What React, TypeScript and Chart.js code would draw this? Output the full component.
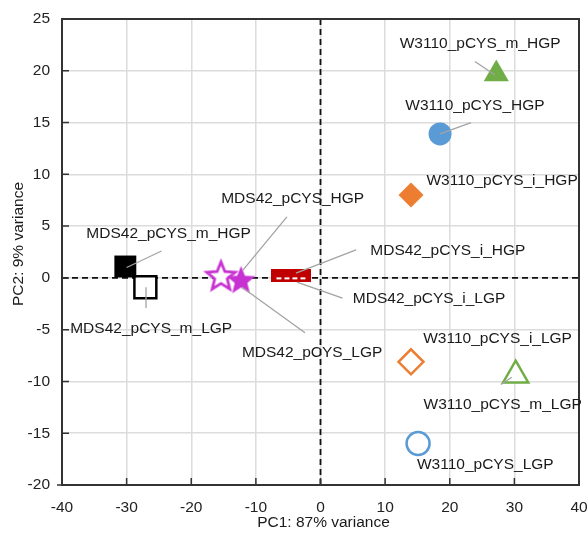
import React, { useEffect, useRef } from "react";
import { Chart, registerables } from "chart.js";

Chart.register(...registerables);

// ---------- data ----------
const sampleNames = [
  "MDS42_pCYS_m_HGP",
  "MDS42_pCYS_m_LGP",
  "MDS42_pCYS_HGP",
  "MDS42_pCYS_LGP",
  "MDS42_pCYS_i_HGP",
  "MDS42_pCYS_i_LGP",
  "W3110_pCYS_m_HGP",
  "W3110_pCYS_HGP",
  "W3110_pCYS_i_HGP",
  "W3110_pCYS_i_LGP",
  "W3110_pCYS_m_LGP",
  "W3110_pCYS_LGP",
];
const pc1 = [-30.2, -27.1, -12.3, -15.4, -4.5, -4.5, 27.2, 18.5, 14.0, 14.0, 30.2, 15.1];
const pc2 = [1.1, -0.9, -0.2, 0.2, 0.3, 0.15, 19.7, 13.9, 8.0, -8.1, -9.4, -16.0];

// label anchors (data units)
const labelX = [-23.5, -26.2, -4.3, -1.3, 19.7, 16.8, 24.7, 23.9, 28.1, 27.4, 28.2, 25.5];
const labelY = [4.3, -4.9, 7.6, -7.25, 2.6, -2.05, 22.65, 16.6, 9.35, -5.85, -12.2, -18.05];

// leader lines (data units), null = none
const leaderFromX = [-24.6, -27.0, -5.2, -2.4, 5.5, 3.4, 23.9, 23.3, null, null, 27.9, null];
const leaderFromY = [2.6, -0.9, 5.9, -5.3, 2.7, -1.95, 20.9, 15.0, null, null, -10.3, null];
const leaderToX = [-30.0, -27.0, -12.0, -12.15, -3.8, -3.65, 27.0, 18.5, null, null, 29.6, null];
const leaderToY = [1.0, -2.9, 0.75, -0.9, 0.45, -0.4, 19.6, 13.9, null, null, -9.6, null];

const xMin = -40;
const xMax = 40;
const xStep = 10;
const yMin = -20;
const yMax = 25;
const yStep = 5;
const xTitle = "PC1: 87% variance";
const yTitle = "PC2: 9% variance";

// ---------- styles ----------
type Mk = { shape: string; color: string; filled: boolean };
const markerStyles: Mk[] = [
  { shape: "rect", color: "#000000", filled: true },
  { shape: "rect", color: "#000000", filled: false },
  { shape: "star", color: "#c832d2", filled: true },
  { shape: "star", color: "#c832d2", filled: false },
  { shape: "bar", color: "#c00000", filled: true },
  { shape: "bar", color: "#c00000", filled: false },
  { shape: "triangle", color: "#70ad47", filled: true },
  { shape: "circle", color: "#5b9bd5", filled: true },
  { shape: "rectRot", color: "#ed7d31", filled: true },
  { shape: "rectRot", color: "#ed7d31", filled: false },
  { shape: "triangle", color: "#70ad47", filled: false },
  { shape: "circle", color: "#5b9bd5", filled: false },
];
// drawn first -> last
const drawSequence = [1, 0, 3, 2, 4, 5, 6, 7, 8, 9, 10, 11];

const FONT = "'Liberation Sans', Arial, Helvetica, sans-serif";
const FS = 15.5;

function makeStar(color: string, filled: boolean): HTMLCanvasElement {
  const R = 15;
  const r = R * 0.44;
  const lw = 2.8;
  const size = Math.ceil(2 * R + lw + 4);
  const c = document.createElement("canvas");
  c.width = size;
  c.height = size;
  const ctx = c.getContext("2d")!;
  const cx = size / 2;
  const cy = size / 2 + 1;
  ctx.beginPath();
  for (let i = 0; i < 10; i++) {
    const a = -Math.PI / 2 + (i * Math.PI) / 5;
    const rad = i % 2 === 0 ? R : r;
    const px = cx + Math.cos(a) * rad;
    const py = cy + Math.sin(a) * rad;
    if (i === 0) ctx.moveTo(px, py);
    else ctx.lineTo(px, py);
  }
  ctx.closePath();
  ctx.lineJoin = "miter";
  if (filled) {
    ctx.fillStyle = color;
    ctx.fill();
  } else {
    ctx.fillStyle = "#ffffff";
    ctx.fill();
    ctx.strokeStyle = color;
    ctx.lineWidth = lw;
    ctx.stroke();
  }
  return c;
}

function makeBar(color: string, filled: boolean): HTMLCanvasElement {
  const w = 40;
  const h = 12;
  const c = document.createElement("canvas");
  c.width = w;
  c.height = h;
  const ctx = c.getContext("2d")!;
  ctx.fillStyle = color;
  ctx.fillRect(0, 0, w, h);
  if (!filled) {
    ctx.strokeStyle = "#ffffff";
    ctx.lineWidth = 2;
    ctx.setLineDash([5, 3]);
    ctx.beginPath();
    ctx.moveTo(5, h / 2 + 2);
    ctx.lineTo(w - 4, h / 2 + 2);
    ctx.stroke();
  }
  return c;
}

const radiusFor: Record<string, number> = {
  circle: 11.5,
  rect: 15.5,
  rectRot: 12.5,
  triangle: 14.5,
};

const decorPlugin = {
  id: "decor",
  beforeDatasetsDraw(chart: any) {
    const { ctx, chartArea: a, scales } = chart;
    const xs = scales.x;
    const ys = scales.y;
    ctx.save();
    // zero lines
    ctx.strokeStyle = "#111111";
    ctx.lineWidth = 1.8;
    ctx.setLineDash([6, 4]);
    const x0 = xs.getPixelForValue(0);
    const y0 = ys.getPixelForValue(0);
    ctx.beginPath();
    ctx.moveTo(x0, a.top);
    ctx.lineTo(x0, a.bottom);
    ctx.moveTo(a.left, y0);
    ctx.lineTo(a.right, y0);
    ctx.stroke();
    ctx.setLineDash([]);
    // inner tick marks
    ctx.strokeStyle = "#333333";
    ctx.lineWidth = 1.5;
    ctx.beginPath();
    for (let v = yMin; v <= yMax; v += yStep) {
      const p = ys.getPixelForValue(v);
      ctx.moveTo(a.left - (v === yMin ? 5 : 0), p);
      ctx.lineTo(a.left + 7, p);
    }
    for (let v = xMin; v <= xMax; v += xStep) {
      const p = xs.getPixelForValue(v);
      ctx.moveTo(p, a.bottom);
      ctx.lineTo(p, a.bottom - 7);
    }
    ctx.stroke();
    // frame
    ctx.strokeStyle = "#333333";
    ctx.lineWidth = 2;
    ctx.strokeRect(a.left, a.top, a.right - a.left, a.bottom - a.top);
    ctx.restore();
  },
  afterDatasetsDraw(chart: any) {
    const { ctx, chartArea: a, scales } = chart;
    const xs = scales.x;
    const ys = scales.y;
    ctx.save();
    // leader lines
    ctx.strokeStyle = "#a3a3a3";
    ctx.lineWidth = 1.3;
    ctx.beginPath();
    for (let i = 0; i < sampleNames.length; i++) {
      if (leaderFromX[i] === null) continue;
      ctx.moveTo(xs.getPixelForValue(leaderFromX[i] as number), ys.getPixelForValue(leaderFromY[i] as number));
      ctx.lineTo(xs.getPixelForValue(leaderToX[i] as number), ys.getPixelForValue(leaderToY[i] as number));
    }
    ctx.stroke();
    // labels
    ctx.fillStyle = "#1a1a1a";
    ctx.font = `${FS}px ${FONT}`;
    ctx.textAlign = "center";
    ctx.textBaseline = "middle";
    for (let i = 0; i < sampleNames.length; i++) {
      ctx.fillText(sampleNames[i], xs.getPixelForValue(labelX[i]), ys.getPixelForValue(labelY[i]));
    }
    // axis titles
    ctx.fillText(xTitle, (a.left + a.right) / 2 + 3, 523);
    ctx.save();
    ctx.translate(19, (a.top + a.bottom) / 2 - 8);
    ctx.rotate(-Math.PI / 2);
    ctx.fillText(yTitle, 0, 0);
    ctx.restore();
    ctx.restore();
  },
};

export default function App() {
  const ref = useRef<HTMLCanvasElement | null>(null);

  useEffect(() => {
    if (!ref.current) return;
    const datasets = drawSequence.map((i) => {
      const m = markerStyles[i];
      let pointStyle: any = m.shape;
      if (m.shape === "star") pointStyle = makeStar(m.color, m.filled);
      if (m.shape === "bar") pointStyle = makeBar(m.color, m.filled);
      const isImg = m.shape === "star" || m.shape === "bar";
      return {
        label: sampleNames[i],
        data: [{ x: pc1[i], y: pc2[i] }],
        pointStyle,
        pointRadius: isImg ? 12 : radiusFor[m.shape],
        pointBackgroundColor: m.filled ? m.color : "#ffffff",
        pointBorderColor: m.color,
        pointBorderWidth: m.filled ? 0 : 2.5,
        showLine: false,
      };
    });
    // Chart.js draws higher dataset index first; reverse so sequence order holds
    datasets.reverse();

    const chart = new Chart(ref.current, {
      type: "scatter",
      data: { datasets },
      plugins: [decorPlugin],
      options: {
        responsive: false,
        animation: false,
        events: [],
        layout: { autoPadding: false, padding: { top: 19, right: 9, left: 0, bottom: 0 } },
        plugins: { legend: { display: false }, tooltip: { enabled: false } },
        scales: {
          x: {
            type: "linear",
            min: xMin,
            max: xMax,
            afterFit: (s: any) => {
              s.height = 50;
              s.paddingLeft = 0;
              s.paddingRight = 0;
            },
            ticks: {
              stepSize: xStep,
              color: "#222222",
              font: { family: FONT, size: FS },
              padding: 13,
            },
            grid: { color: "#dcdcdc", lineWidth: 1.5, drawTicks: false },
            border: { display: false },
          },
          y: {
            type: "linear",
            min: yMin,
            max: yMax,
            afterFit: (s: any) => {
              s.width = 62;
              s.paddingTop = 0;
              s.paddingBottom = 0;
            },
            ticks: {
              stepSize: yStep,
              color: "#222222",
              font: { family: FONT, size: FS },
              padding: 12,
            },
            grid: { color: "#dcdcdc", lineWidth: 1.5, drawTicks: false },
            border: { display: false },
          },
        },
      },
    } as any);
    return () => chart.destroy();
  }, []);

  return (
    <div style={{ position: "absolute", left: 0, top: 0, width: 588, height: 535, background: "#ffffff" }}>
      <canvas ref={ref} width={588} height={535} style={{ display: "block" }} />
    </div>
  );
}
